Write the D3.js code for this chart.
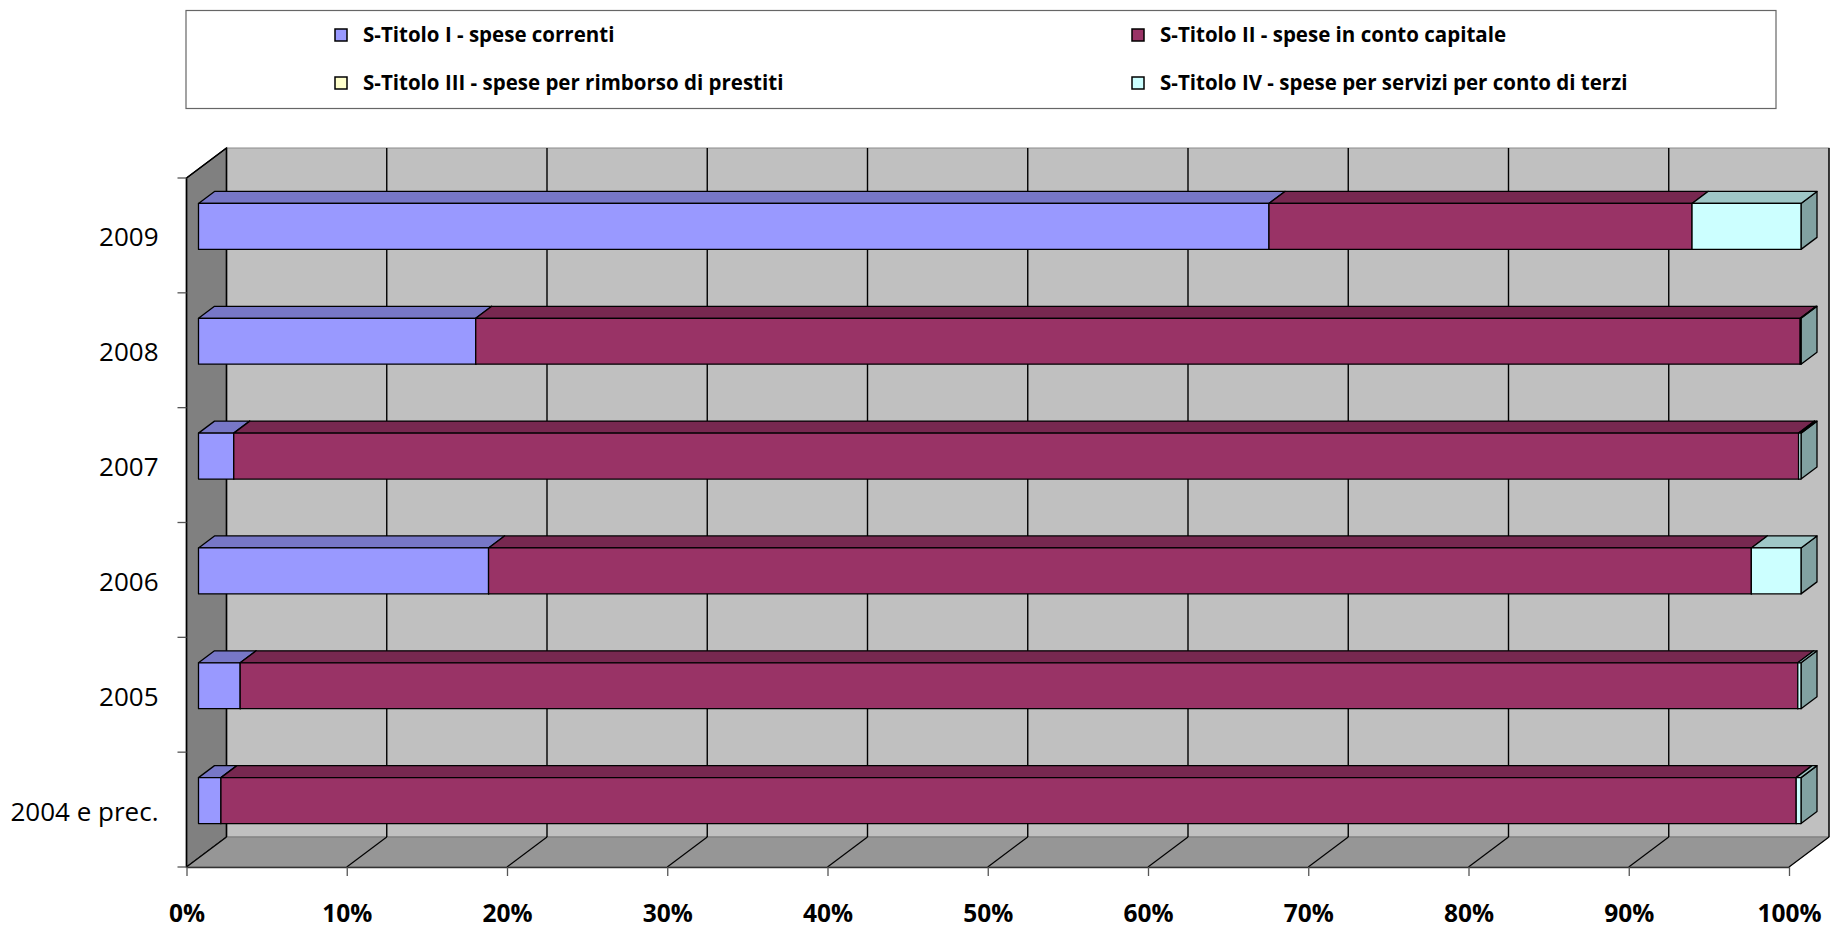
<!DOCTYPE html>
<html>
<head>
<meta charset="utf-8">
<script src="https://cdn.jsdelivr.net/npm/d3@7"></script>
<style>
  html, body { margin: 0; padding: 0; background: #fff; }
  svg { display: block; }
  text { font-family: "Open Sans", "Liberation Sans", Arial, sans-serif; fill: #000; }
</style>
</head>
<body>
<svg id="chart" width="1831" height="928"></svg>
<script>
// Composizione percentuale delle spese per anno di provenienza
const categories = ["2004 e prec.", "2005", "2006", "2007", "2008", "2009"];
const titoloI   = [1.4, 2.6, 18.1, 2.2, 17.3, 66.8];
const titoloII  = [98.3, 97.2, 78.8, 97.65, 82.65, 26.4];
const titoloIII = [0, 0, 0, 0, 0, 0];
const titoloIV  = [0.3, 0.2, 3.1, 0.15, 0.05, 6.8];
const seriesNames = [
  "S-Titolo I - spese correnti",
  "S-Titolo II - spese in conto capitale",
  "S-Titolo III - spese per rimborso di prestiti",
  "S-Titolo IV - spese per servizi per conto di terzi"
];
const seriesColors = ["#9999FF", "#993366", "#FFFFCC", "#CCFFFF"];
const xTickValues = [0, 10, 20, 30, 40, 50, 60, 70, 80, 90, 100];

const svg = d3.select("#chart");

// table for the stack layout
const keys = ["I", "II", "III", "IV"];
const seriesArrays = [titoloI, titoloII, titoloIII, titoloIV];
const rows = categories.map((c, i) => {
  const r = { cat: c };
  keys.forEach((k, j) => { r[k] = seriesArrays[j][i]; });
  return r;
});
const stacked = d3.stack().keys(keys)(rows);
const colorOf = d3.scaleOrdinal().domain(keys).range(seriesColors);

// plot geometry (front plane) and 3D depth
const plot = { left: 186.5, right: 1789, top: 178, bottom: 867 };
const depth = { dx: 40, dy: -30 };
const barFront = 0.3, barBack = 0.7;   // bar slab position inside the depth

const x = d3.scaleLinear().domain([0, 100]).range([plot.left, plot.right]);
const y = d3.scaleBand()
  .domain(categories.slice().reverse())
  .range([plot.top, plot.bottom])
  .paddingInner(0.6)
  .paddingOuter(0.3);

const shade = (c, k) => {
  const r = d3.rgb(c);
  return d3.rgb(r.r * k, r.g * k, r.b * k).formatHex();
};

// ---- walls and floor
const L = plot.left, R = plot.right, T = plot.top, B = plot.bottom;
const DX = depth.dx, DY = depth.dy;
const g = svg.append("g");

// back wall
g.append("rect")
  .attr("x", L + DX).attr("y", T + DY)
  .attr("width", R - L).attr("height", B - T)
  .attr("fill", "#C0C0C0").attr("stroke", "#8c8c8c").attr("stroke-width", 1);
// left side wall
g.append("path")
  .attr("d", `M${L},${T}L${L + DX},${T + DY}L${L + DX},${B + DY}L${L},${B}Z`)
  .attr("fill", "#808080").attr("stroke", "#000").attr("stroke-width", 1.3);
// floor
g.append("path")
  .attr("d", `M${L},${B}L${L + DX},${B + DY}L${R + DX},${B + DY}L${R},${B}Z`)
  .attr("fill", "#969696").attr("stroke", "#7a7a7a").attr("stroke-width", 1);

// gridlines on the back wall and across the floor
xTickValues.forEach(v => {
  g.append("line")
    .attr("x1", x(v) + DX).attr("x2", x(v) + DX)
    .attr("y1", T + DY).attr("y2", B + DY)
    .attr("stroke", "#000").attr("stroke-width", 1.4);
  g.append("line")
    .attr("x1", x(v)).attr("y1", B)
    .attr("x2", x(v) + DX).attr("y2", B + DY)
    .attr("stroke", "#000").attr("stroke-width", 1.2);
});
// left wall outline again so its edges sit on top
g.append("path")
  .attr("d", `M${L},${B}L${L},${T}L${L + DX},${T + DY}`)
  .attr("fill", "none").attr("stroke", "#000").attr("stroke-width", 1.5);

// ---- bars
const fx = DX * barFront, fy = DY * barFront;
const sdx = DX * (barBack - barFront), sdy = DY * (barBack - barFront);
const bw = y.bandwidth();
const barsG = svg.append("g")
  .attr("stroke", "#000").attr("stroke-width", 1.3).attr("stroke-linejoin", "round");

categories.forEach((c, i) => {
  stacked.forEach(layer => {
    const d = layer[i];
    if (d[1] - d[0] <= 0) return;
    const col = colorOf(layer.key);
    const x0 = x(d[0]) + fx, x1 = x(d[1]) + fx;
    const yt = y(c) + fy, yb = yt + bw;
    // right side face
    barsG.append("path")
      .attr("d", `M${x1},${yt}L${x1 + sdx},${yt + sdy}L${x1 + sdx},${yb + sdy}L${x1},${yb}Z`)
      .attr("fill", shade(col, 0.63));
    // top face
    barsG.append("path")
      .attr("d", `M${x0},${yt}L${x0 + sdx},${yt + sdy}L${x1 + sdx},${yt + sdy}L${x1},${yt}Z`)
      .attr("fill", shade(col, 0.78));
    // front face
    barsG.append("rect")
      .attr("x", x0).attr("y", yt)
      .attr("width", x1 - x0).attr("height", bw)
      .attr("fill", col);
  });
});

// ---- axes
const xAxis = d3.axisBottom(x)
  .tickValues(xTickValues)
  .tickFormat(d => d + "%")
  .tickSize(9)
  .tickSizeOuter(0);
const xg = svg.append("g").attr("transform", `translate(0,${B})`).call(xAxis);
xg.select(".domain").attr("stroke", "#333").attr("stroke-width", 1.5);
xg.selectAll(".tick line").attr("stroke", "#555").attr("stroke-width", 1.3);
xg.selectAll(".tick text")
  .attr("y", 55).attr("dy", 0)
  .style("font-size", "24.5px").style("font-weight", "bold")
  .style("font-family", "'Open Sans', 'Liberation Sans', Arial, sans-serif");

const yAxis = d3.axisLeft(y).tickSize(0).tickPadding(28);
const yg = svg.append("g").attr("transform", `translate(${L},0)`).call(yAxis);
yg.select(".domain").remove();
yg.selectAll(".tick text")
  .attr("dy", "0.42em")
  .style("font-size", "26px")
  .style("font-family", "'Open Sans', 'Liberation Sans', Arial, sans-serif");
// category ticks sit on band boundaries
d3.range(categories.length + 1).forEach(k => {
  const yy = plot.top + k * y.step();
  svg.append("line")
    .attr("x1", L - 9).attr("x2", L)
    .attr("y1", yy).attr("y2", yy)
    .attr("stroke", "#555").attr("stroke-width", 1.3);
});

// ---- legend
const legend = svg.append("g");
legend.append("rect")
  .attr("x", 186).attr("y", 10.5).attr("width", 1590).attr("height", 98)
  .attr("fill", "#fff").attr("stroke", "#666").attr("stroke-width", 1.2);
const legendPos = [
  { mx: 335, cy: 35 }, { mx: 1132, cy: 35 },
  { mx: 335, cy: 83 }, { mx: 1132, cy: 83 }
];
seriesNames.forEach((name, j) => {
  const p = legendPos[j];
  legend.append("rect")
    .attr("x", p.mx).attr("y", p.cy - 6)
    .attr("width", 12).attr("height", 12)
    .attr("fill", seriesColors[j]).attr("stroke", "#000").attr("stroke-width", 1.5);
  legend.append("text")
    .attr("x", p.mx + 28).attr("y", p.cy).attr("dy", "0.35em")
    .style("font-size", "20.5px").style("font-weight", "bold")
    .text(name);
});
</script>
</body>
</html>
